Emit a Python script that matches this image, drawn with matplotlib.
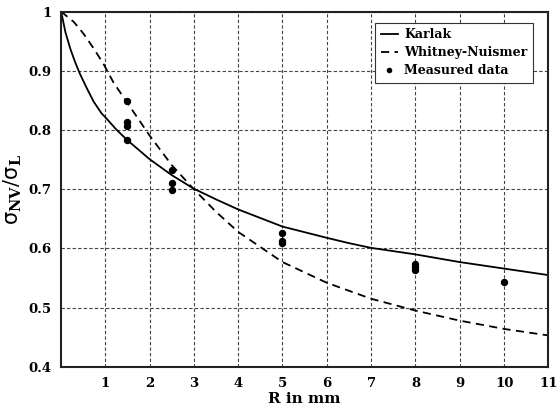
import matplotlib
matplotlib.use('Agg')
import matplotlib.pyplot as plt

# values
r_karlak = [0, 0.02, 0.1, 0.21, 0.32, 0.43, 0.59, 0.74, 0.92, 1.0, 1.25, 1.5, 2.0, 2.5, 3.0, 3.5, 4.0,
            5.0, 6.0, 6.5, 7.0, 8.0, 9.0, 10.0, 11.0]
karlak = [1.0, 0.995, 0.966, 0.938, 0.915, 0.895, 0.870, 0.848, 0.828, 0.822, 0.801, 0.783, 0.751, 0.724,
          0.701, 0.683, 0.666, 0.637, 0.618, 0.609, 0.601, 0.590, 0.577, 0.566, 0.555]

r_wn = [0, 0.06, 0.29, 0.51, 0.74, 0.96, 1.19, 1.5, 2.0, 2.5, 3.0, 3.5, 4.0, 5.0, 6.0, 7.0, 8.0, 9.0,
        10.0, 11.0]
whitney = [1.0, 0.997, 0.983, 0.963, 0.938, 0.912, 0.880, 0.846, 0.791, 0.741, 0.700, 0.662, 0.628, 0.577,
           0.542, 0.515, 0.495, 0.478, 0.464, 0.453]

r_meas = [1.5, 1.5, 1.5, 1.5, 2.5, 2.5, 2.5, 5, 5, 5, 8, 8, 8, 10]
measured = [0.849, 0.813, 0.807, 0.783, 0.732, 0.711, 0.698, 0.626, 0.613, 0.609, 0.573, 0.569, 0.563, 0.543]

x_ticks = list(range(1, 12))
y_ticks = [0.4, 0.5, 0.6, 0.7, 0.8, 0.9, 1.0]
y_labels = ['0.4', '0.5', '0.6', '0.7', '0.8', '0.9', '1']

plt.rcParams['font.family'] = 'DejaVu Serif'
plt.rcParams['mathtext.fontset'] = 'dejavuserif'

fig = plt.figure(figsize=(5.59, 4.08), dpi=100)
ax = fig.add_axes([0.109, 0.101, 0.872, 0.870])

ax.plot(r_karlak, karlak, color='black', lw=1.3, label='Karlak')
ax.plot(r_wn, whitney, color='black', lw=1.3, dashes=(4.5, 3), label='Whitney-Nuismer')
ax.plot(r_meas, measured, 'o', color='black', ms=4.3, label='Measured data')

ax.set_xlim(0, 11)
ax.set_ylim(0.4, 1.0)
ax.set_xticks(x_ticks)
ax.set_yticks(y_ticks)
ax.set_yticklabels(y_labels)
ax.tick_params(length=0, labelsize=9.5, pad=7)
for lab in ax.get_xticklabels() + ax.get_yticklabels():
    lab.set_fontweight('bold')
ax.grid(True, color='#444444', lw=0.8, dashes=(3, 2))

for s in ax.spines.values():
    s.set_linewidth(1.5)
    s.set_color('#222222')

ax.set_xlabel('R in mm', fontsize=11, fontweight='bold', labelpad=2)
ax.set_ylabel(r'$\mathsf{\sigma}_{\mathbf{NV}}/\mathsf{\sigma}_{\mathbf{L}}$', fontsize=15, labelpad=3)

leg = ax.legend(loc='upper right', bbox_to_anchor=(0.969, 0.969), borderaxespad=0, fancybox=False,
                framealpha=1, edgecolor='#333333', prop={'weight': 'bold', 'size': 9},
                handlelength=1.4, handletextpad=0.5, labelspacing=0.4, borderpad=0.45,
                markerscale=0.7)
leg.get_frame().set_linewidth(0.8)

fig.savefig('out.png', dpi=100)
